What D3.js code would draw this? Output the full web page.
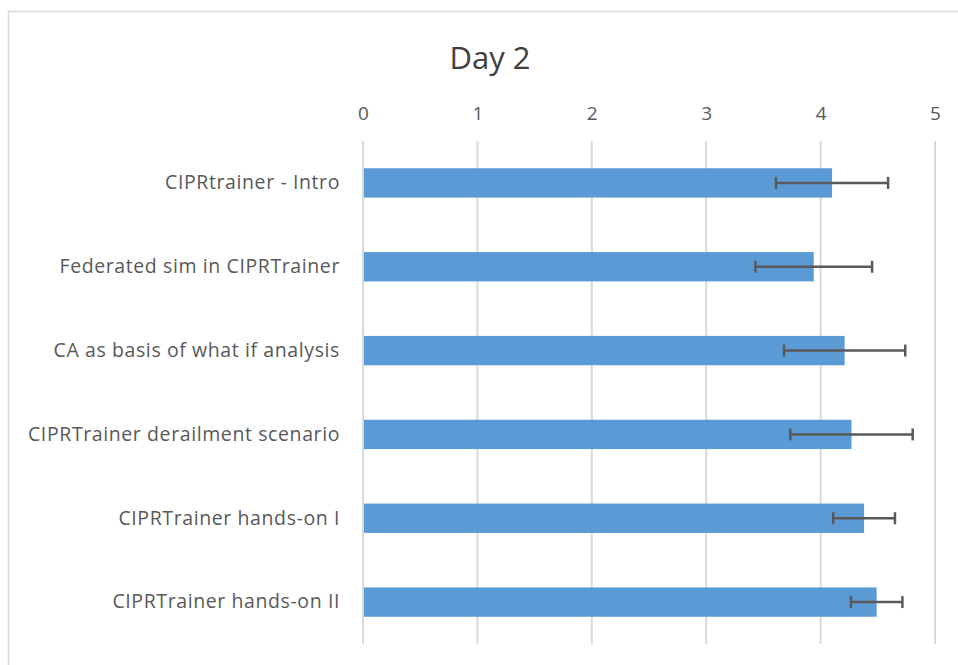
<!DOCTYPE html>
<html>
<head>
<meta charset="utf-8">
<script src="https://cdn.jsdelivr.net/npm/d3@7"></script>
<style>
  body { margin: 0; background: #fff; }
  svg { display: block; }
  .axis text { font-family: "Open Sans", "Noto Sans", sans-serif; fill: #595959; }
</style>
</head>
<body>
<div id="chart"></div>
<script>
var categories = [
  "CIPRtrainer - Intro",
  "Federated sim in CIPRTrainer",
  "CA as basis of what if analysis",
  "CIPRTrainer derailment scenario",
  "CIPRTrainer hands-on I",
  "CIPRTrainer hands-on II"
];
var means = [4.10, 3.94, 4.21, 4.27, 4.38, 4.49];
var errors = [0.49, 0.51, 0.53, 0.535, 0.27, 0.225];
var xTicks = [0, 1, 2, 3, 4, 5];

var width = 958, height = 665;
var margin = {top: 141, right: 23, bottom: 21, left: 363};
var chartW = width - margin.left - margin.right,
    chartH = height - margin.top - margin.bottom;

var svg = d3.select("#chart").append("svg")
  .attr("width", width)
  .attr("height", height);

// outer chart frame
svg.append("rect")
  .attr("x", 8.5).attr("y", 11.5)
  .attr("width", width + 10).attr("height", height + 10)
  .attr("fill", "#fff")
  .attr("stroke", "#d9d9d9")
  .attr("stroke-width", 1.5);

svg.append("text")
  .attr("x", 490).attr("y", 69)
  .attr("text-anchor", "middle")
  .style("font-family", "'Open Sans', 'Noto Sans', sans-serif")
  .style("font-size", "31px")
  .style("fill", "#404040")
  .text("Day 2");

var g = svg.append("g")
  .attr("transform", "translate(" + margin.left + "," + margin.top + ")");

var x = d3.scaleLinear().domain([0, 5]).range([0, chartW]);
var y = d3.scaleBand().domain(categories).range([0, chartH])
  .paddingInner(0.65).paddingOuter(0.325);

// gridlines
g.append("g").selectAll("line")
  .data(xTicks)
  .enter().append("line")
  .attr("x1", function(d) { return x(d); })
  .attr("x2", function(d) { return x(d); })
  .attr("y1", 0).attr("y2", chartH)
  .attr("stroke", "#d9d9d9")
  .attr("stroke-width", 2);

var xAxis = d3.axisTop(x).tickValues(xTicks).tickSize(0).tickPadding(21)
  .tickFormat(d3.format("d"));
g.append("g").attr("class", "axis")
  .call(xAxis)
  .call(function(s) { s.select(".domain").remove(); })
  .selectAll("text").style("font-size", "19px");

var yAxis = d3.axisLeft(y).tickSize(0).tickPadding(23);
g.append("g").attr("class", "axis")
  .call(yAxis)
  .call(function(s) { s.select(".domain").remove(); })
  .selectAll("text")
  .style("font-size", "19.5px")
  .style("letter-spacing", "0.6px");

// bars
g.append("g").selectAll("rect")
  .data(means)
  .enter().append("rect")
  .attr("x", x(0) + 1)
  .attr("y", function(d, i) { return y(categories[i]); })
  .attr("width", function(d) { return x(d) - x(0) - 1; })
  .attr("height", y.bandwidth())
  .attr("fill", "#5b9bd5");

// error bars
var eb = g.append("g").selectAll("g")
  .data(means)
  .enter().append("g")
  .attr("stroke", "#595959")
  .attr("stroke-width", 2.5);

eb.append("line")
  .attr("x1", function(d, i) { return x(d - errors[i]); })
  .attr("x2", function(d, i) { return x(d + errors[i]); })
  .attr("y1", function(d, i) { return y(categories[i]) + y.bandwidth() / 2; })
  .attr("y2", function(d, i) { return y(categories[i]) + y.bandwidth() / 2; });

[-1, 1].forEach(function(sign) {
  eb.append("line")
    .attr("x1", function(d, i) { return x(d + sign * errors[i]); })
    .attr("x2", function(d, i) { return x(d + sign * errors[i]); })
    .attr("y1", function(d, i) { return y(categories[i]) + y.bandwidth() / 2 - 6; })
    .attr("y2", function(d, i) { return y(categories[i]) + y.bandwidth() / 2 + 6; });
});
</script>
</body>
</html>
